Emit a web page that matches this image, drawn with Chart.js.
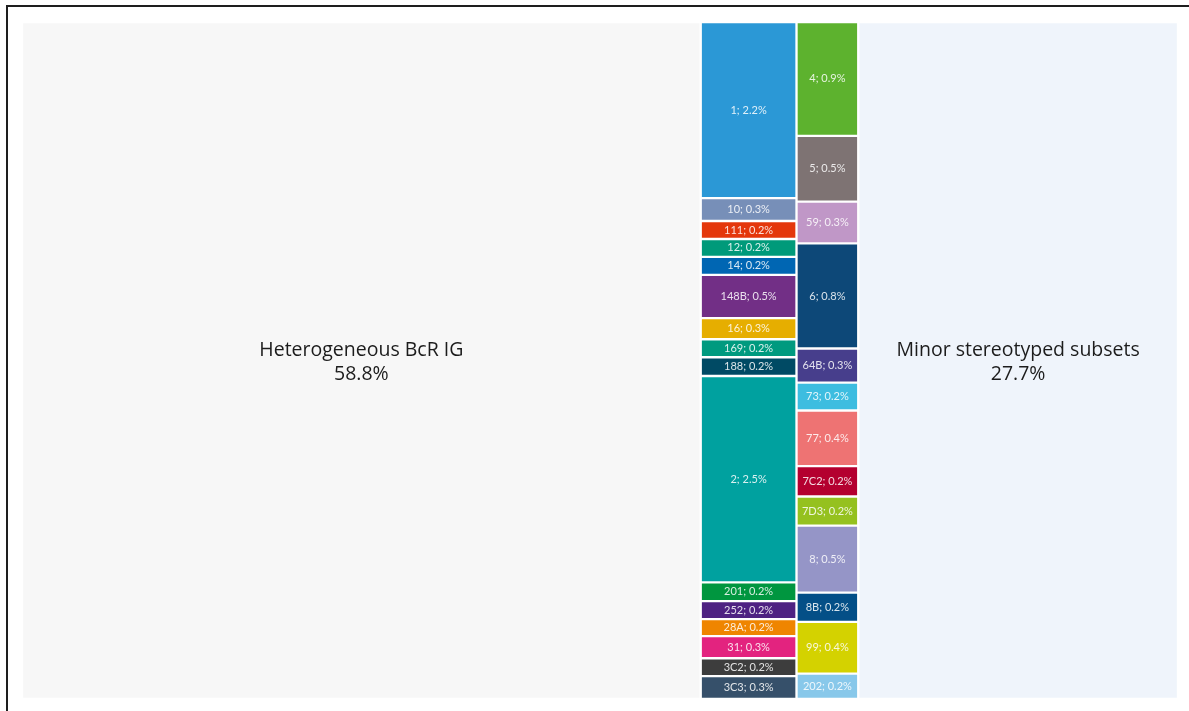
<!DOCTYPE html>
<html lang="en">
<head>
  <meta charset="UTF-8" />
  <title>BcR IG subsets</title>
  <script src="https://cdn.jsdelivr.net/npm/chart.js"></script>
  <style>
    html, body {
      margin: 0;
      background: #fff;
      overflow: hidden;
    }
    .frame {
      position: absolute;
      left: 6px;
      top: 5px;
      width: 1300px;
      height: 800px;
      border-left: 2px solid #1e1e1e;
      border-top: 2px solid #1e1e1e;
    }
    .wrap {
      position: absolute;
      left: 22px;
      top: 22px;
      width: 1156px;
      height: 677px;
    }
  </style>
</head>
<body>
<div class="frame"></div>
<div class="wrap"><canvas id="mapa"></canvas></div>

<script>
// big groups (% of all sequences)
const groupNames = ['Heterogeneous BcR IG', 'Minor stereotyped subsets'];
const groupValues = [58.8, 27.7];

// major subsets, first column
const subsetsA = ['1', '10', '111', '12', '14', '148B', '16', '169', '188', '2', '201', '252', '28A', '31', '3C2', '3C3'];
const valuesA  = [2.16, 0.28, 0.22, 0.22, 0.22, 0.53, 0.26, 0.22, 0.23, 2.53, 0.23, 0.22, 0.21, 0.27, 0.22, 0.28];

// major subsets, second column
const subsetsB = ['4', '5', '59', '6', '64B', '73', '77', '7C2', '7D3', '8', '8B', '99', '202'];
const valuesB  = [0.90, 0.52, 0.33, 0.83, 0.27, 0.22, 0.44, 0.24, 0.23, 0.53, 0.23, 0.41, 0.20];

// colours
const coloresA = ['#2b98d6', '#778fb8', '#e4370b', '#009a7a', '#0066b3', '#722f86', '#e6ae00', '#009a7f',
                  '#004a64', '#00a19f', '#00963f', '#4e2282', '#ef8500', '#e3237f', '#3d3d3d', '#36506a'];
const coloresB = ['#5db22e', '#7e7373', '#c097c7', '#0d4878', '#473e8c', '#3dbde0', '#ee7373', '#b4002f',
                  '#95c11f', '#9595c7', '#044f87', '#d4d200', '#88c8ea'];
const colorIzq = '#f7f7f7';
const colorDer = '#eff4fb';

// columns of the map, left to right
const columnas = [
  { names: [groupNames[0]], values: [groupValues[0]], colors: [colorIzq], big: true },
  { names: subsetsA, values: valuesA, colors: coloresA, big: false },
  { names: subsetsB, values: valuesB, colors: coloresB, big: false },
  { names: [groupNames[1]], values: [groupValues[1]], colors: [colorDer], big: true }
];

const sum = arr => arr.reduce((a, b) => a + b, 0);
const total = sum(columnas.map(c => sum(c.values)));

// slice-and-dice layout: each column width = its share, cells stacked inside
let x0 = 0;
const datasets = columnas.map(col => {
  const w = sum(col.values);
  let acc = 0;
  const data = col.values.map(v => {
    const p = { x: x0 + w / 2, y: [acc / w * 100, (acc + v) / w * 100] };
    acc += v;
    return p;
  });
  const ds = {
    data: data,
    names: col.names,
    vals: col.values,
    big: col.big,
    x0: x0,
    x1: x0 + w,
    backgroundColor: col.colors,
    borderColor: '#ffffff',
    borderWidth: 1.5,
    borderSkipped: false
  };
  x0 += w;
  return ds;
});

// bar width of each column taken from the x scale
const anchoColumnas = {
  id: 'anchoColumnas',
  beforeDatasetsUpdate(chart) {
    const xs = chart.scales.x;
    chart.data.datasets.forEach(ds => {
      ds.barThickness = xs.getPixelForValue(ds.x1) - xs.getPixelForValue(ds.x0);
    });
  }
};

// labels inside the cells
const etiquetas = {
  id: 'etiquetas',
  afterDatasetsDraw(chart) {
    const ctx = chart.ctx;
    ctx.save();
    ctx.textAlign = 'center';
    ctx.textBaseline = 'middle';
    chart.data.datasets.forEach((ds, i) => {
      chart.getDatasetMeta(i).data.forEach((el, j) => {
        const cx = el.x;
        const cy = (el.y + el.base) / 2;
        const txt = ds.vals[j].toFixed(1) + '%';
        if (ds.big) {
          ctx.fillStyle = '#1c1c1c';
          ctx.font = '19.5px "Open Sans", Lato, sans-serif';
          ctx.fillText(ds.names[j], cx, cy - 10);
          ctx.fillText(txt, cx, cy + 14);
        } else {
          ctx.fillStyle = 'rgba(255,255,255,0.85)';
          ctx.font = '11px Lato, "Open Sans", sans-serif';
          ctx.fillText(ds.names[j] + '; ' + txt, cx, cy);
        }
      });
    });
    ctx.restore();
  }
};

new Chart(document.getElementById('mapa'), {
  type: 'bar',
  data: { datasets: datasets },
  options: {
    responsive: true,
    maintainAspectRatio: false,
    animation: false,
    layout: { padding: 0 },
    scales: {
      x: { type: 'linear', stacked: true, offset: false, min: 0, max: total, display: false },
      y: { type: 'linear', offset: false, min: 0, max: 100, reverse: true, display: false }
    },
    plugins: {
      legend: { display: false },
      tooltip: { enabled: false }
    }
  },
  plugins: [anchoColumnas, etiquetas]
});
</script>
</body>
</html>
